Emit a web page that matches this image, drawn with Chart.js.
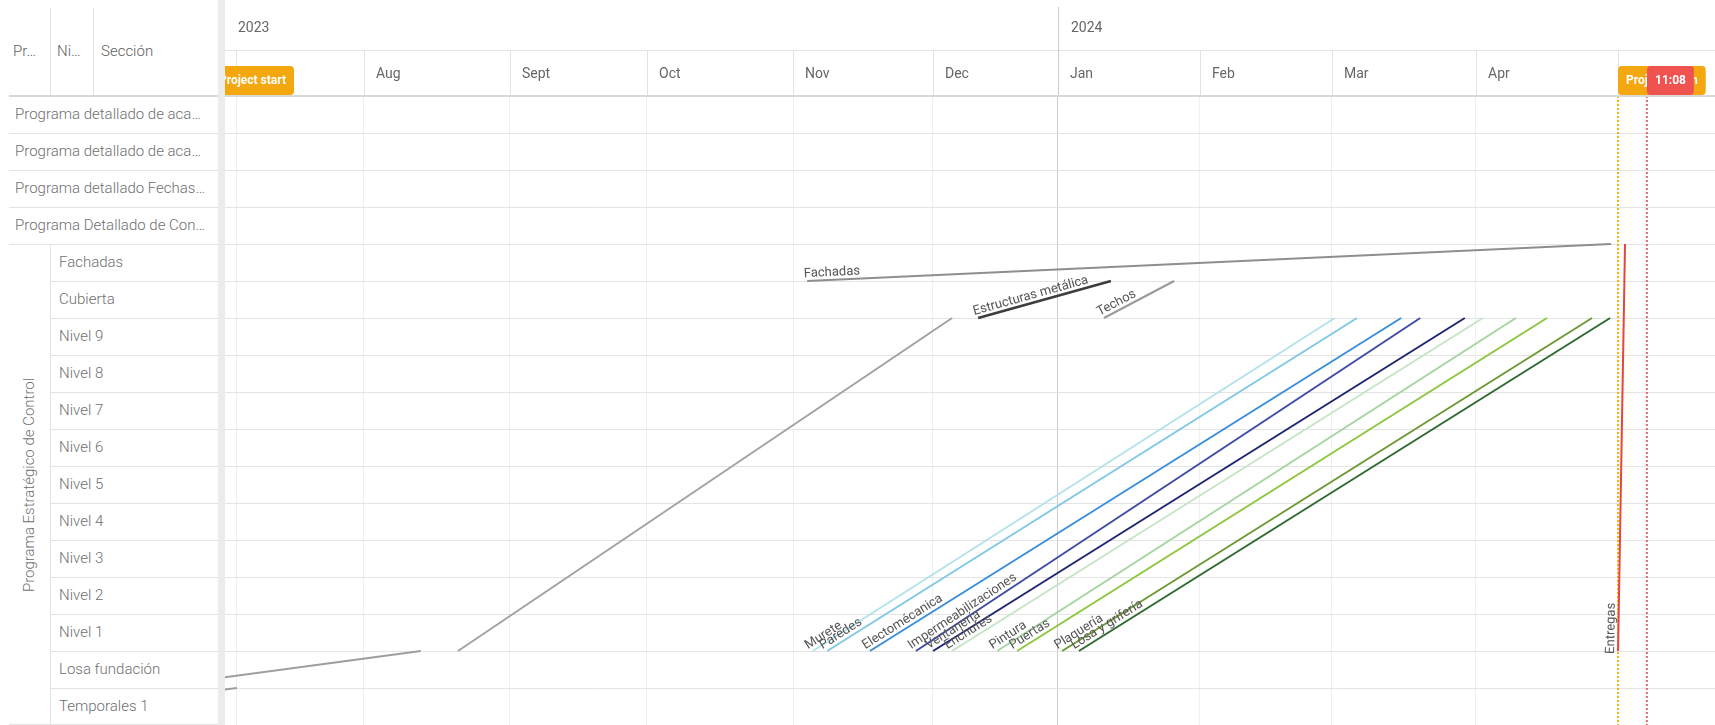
<!DOCTYPE html>
<html>
<head>
<meta charset="utf-8">
<script src="https://cdn.jsdelivr.net/npm/chart.js@4.4.1/dist/chart.umd.min.js"></script>
<style>
  html, body { margin: 0; padding: 0; background: #fff; overflow: hidden; }
  #wrap { position: relative; width: 1715px; height: 725px; font-family: Roboto, "Noto Sans", sans-serif; }
  #chart { position: absolute; left: 0; top: 0; }
  #grid { position: absolute; left: 0; top: 0; width: 218px; height: 725px; background: #fff; color: #6f6f6f; font-size: 15px; font-weight: 300; }
  #splitter { position: absolute; left: 218px; top: 0; width: 7px; height: 725px; background: #ececec; }
  .cell { position: absolute; white-space: nowrap; line-height: 37px; height: 37px; }
  .hl { position: absolute; height: 1px; background: #e3e3e3; }
  .vl { position: absolute; width: 1px; background: #e3e3e3; }
  .group { position: absolute; white-space: nowrap; transform: translate(-50%, -50%) rotate(-90deg); }
</style>
</head>
<body>
<div id="wrap">
  <canvas id="chart" width="1715" height="725"></canvas>
  <div id="grid"></div>
  <div id="splitter"></div>
</div>
<script>
// left table
const headerLabels = ['Pr…', 'Ni…', 'Sección'];
const topRowLabels = ['Programa detallado de aca…', 'Programa detallado de aca…', 'Programa detallado Fechas…', 'Programa Detallado de Con…'];
const groupLabel = 'Programa Estratégico de Control';
const sectionLabels = ['Fachadas', 'Cubierta', 'Nivel 9', 'Nivel 8', 'Nivel 7', 'Nivel 6', 'Nivel 5', 'Nivel 4', 'Nivel 3', 'Nivel 2', 'Nivel 1', 'Losa fundación', 'Temporales 1'];

// timeline, in shown days from the July column line
const yearLabels = ['2023', '2024'];
const yearStarts = [-181, 177];
const monthLabels = ['Jul', 'Aug', 'Sept', 'Oct', 'Nov', 'Dec', 'Jan', 'Feb', 'Mar', 'Apr', 'May'];
const monthStarts = [0, 27.5, 59, 88.5, 120, 150, 177, 207.5, 236, 267, 297.5];

// tasks: start / end day, and the row lines they run between (0 = top of first row)
const taskNames = ['', '', '', 'Fachadas', 'Estructuras metálica', 'Techos', 'Murete', 'Paredes', 'Electomécanica',
  'Impermeabilizaciones', 'Ventanería', 'Enchufes', 'Pintura', 'Puertas', 'Plaquería', 'Losa y grifería', 'Entregas'];
const taskStart = [-60, -19.6, 47.8, 123, 159.8, 186.9, 124.2, 127.3, 136.5, 146.4, 150.1, 154.2, 163.9, 168.2, 177.9, 181.5, 297.6];
const taskEnd = [0.2, 39.8, 154.2, 296.1, 188.4, 202, 236.6, 241.4, 250.9, 255, 264.6, 268.5, 275.6, 282.3, 292, 295.9, 299.1];
const taskFromRow = [17, 16, 15, 5, 6, 6, 15, 15, 15, 15, 15, 15, 15, 15, 15, 15, 15];
const taskToRow = [16, 15, 6, 4, 5, 5, 6, 6, 6, 6, 6, 6, 6, 6, 6, 6, 4];

const markerLabels = ['Project start', 'Project finish', '11:08'];
const markerDays = [-5.4, 297.6, 303.8];

// styles
const taskColors = ['#9e9e9e', '#9e9e9e', '#a2a2a2', '#8e8e8e', '#3d3d3d', '#9a9a9a', '#b4e3ea', '#80c8e6', '#3a8edb',
  '#414ca6', '#1f2670', '#c6e4c6', '#a5d59f', '#8dc63f', '#6d9a35', '#2f6a30', '#e8453c'];
const markerColors = ['#f5a70f', '#f5a70f', '#ef5350'];
const markerLineColors = [null, '#f2b600', '#e06a6a'];

const ROW_H = 37, TOP = 96, LEFT = 225;

// ---- left table ----
const grid = document.getElementById('grid');
function add(cls, css, text) {
  const d = document.createElement('div');
  d.className = cls;
  Object.assign(d.style, css);
  if (text) d.textContent = text;
  grid.appendChild(d);
  return d;
}
[13, 57, 101].forEach((x, i) => add('cell', { left: x + 'px', top: '33px', color: '#5e5e5e' }, headerLabels[i]));
add('vl', { left: '50px', top: '8px', height: '88px' });
add('vl', { left: '93px', top: '8px', height: '88px' });
add('hl', { left: '9px', top: '95px', width: '209px', height: '2px', background: '#d9d9d9' });
topRowLabels.forEach((t, i) => {
  add('cell', { left: '15px', top: TOP + i * ROW_H + 'px' }, t);
  add('hl', { left: '9px', top: TOP + (i + 1) * ROW_H + 'px', width: '209px' });
});
sectionLabels.forEach((t, i) => {
  const r = i + topRowLabels.length;
  add('cell', { left: '59px', top: TOP + r * ROW_H + 'px' }, t);
  const last = i === sectionLabels.length - 1;
  add('hl', { left: last ? '9px' : '50px', top: TOP + (r + 1) * ROW_H - (last ? 1 : 0) + 'px', width: last ? '209px' : '168px' });
});
const g0 = TOP + topRowLabels.length * ROW_H;
add('vl', { left: '50px', top: g0 + 'px', height: sectionLabels.length * ROW_H + 'px' });
add('group', { left: '29px', top: g0 + sectionLabels.length * ROW_H / 2 + 'px' }, groupLabel);

// ---- chart ----
const datasets = taskNames.map((name, i) => ({
  label: name,
  data: [{ x: taskStart[i], y: taskFromRow[i] }, { x: taskEnd[i], y: taskToRow[i] }],
  borderColor: taskColors[i],
  borderWidth: i === 4 ? 2.6 : 2,
}));
markerDays.forEach((d, i) => {
  if (!markerLineColors[i]) return;
  datasets.push({
    label: markerLabels[i],
    marker: true,
    data: [{ x: d, y: 0 }, { x: d, y: 17 }],
    borderColor: markerLineColors[i],
    borderWidth: 2,
    borderDash: [2, 2],
  });
});

const pxPerDay = 4.644;
const xMin = (LEFT - 236) / pxPerDay;
const xMax = xMin + (1715 - LEFT) / pxPerDay;

const lineLabels = {
  id: 'lineLabels',
  afterDatasetsDraw(chart) {
    const { ctx, chartArea: a } = chart;
    ctx.save();
    ctx.beginPath();
    ctx.rect(a.left, a.top, a.right - a.left, a.bottom - a.top);
    ctx.clip();
    ctx.font = '13px Roboto, sans-serif';
    ctx.fillStyle = '#555';
    ctx.textBaseline = 'alphabetic';
    chart.data.datasets.forEach((ds, i) => {
      if (!ds.label || ds.marker) return;
      const [p0, p1] = chart.getDatasetMeta(i).data;
      const ang = Math.atan2(p1.y - p0.y, p1.x - p0.x);
      ctx.save();
      ctx.translate(p0.x, p0.y);
      ctx.rotate(ang);
      ctx.fillText(ds.label, -3, -4);
      ctx.restore();
    });
    ctx.restore();
  }
};

const timelineHeader = {
  id: 'timelineHeader',
  afterDraw(chart) {
    const { ctx, chartArea: a, scales: { x } } = chart;
    ctx.save();
    ctx.beginPath();
    ctx.rect(a.left, 0, a.right - a.left, a.top + 1);
    ctx.clip();
    ctx.fillStyle = '#e3e3e3';
    ctx.fillRect(a.left, 50, a.right - a.left, 1);
    ctx.font = '14px Roboto, sans-serif';
    ctx.textBaseline = 'middle';
    monthStarts.forEach((v, i) => {
      const px = Math.round(x.getPixelForValue(v));
      const isYear = yearStarts.includes(v);
      ctx.fillStyle = isYear ? '#cccccc' : '#e3e3e3';
      ctx.fillRect(px, isYear ? 7 : 51, 1, a.top - (isYear ? 7 : 51));
      ctx.fillStyle = '#666';
      ctx.fillText(monthLabels[i], px + 12, 74);
    });
    yearLabels.forEach((t, i) => {
      const px = Math.max(a.left, x.getPixelForValue(yearStarts[i]));
      ctx.fillStyle = '#666';
      ctx.fillText(t, px + 13, 28);
    });
    ctx.fillStyle = '#d9d9d9';
    ctx.fillRect(a.left, 95, a.right - a.left, 2);
    ctx.font = 'bold 12px Roboto, sans-serif';
    markerLabels.forEach((t, i) => {
      const px = Math.round(x.getPixelForValue(markerDays[i]));
      const w = ctx.measureText(t).width + 16;
      ctx.fillStyle = markerColors[i];
      ctx.beginPath();
      ctx.roundRect(px, 66, w, 29, 4);
      ctx.fill();
      ctx.fillStyle = '#fff';
      ctx.fillText(t, px + 8, 81);
    });
    ctx.restore();
  }
};

new Chart(document.getElementById('chart'), {
  type: 'line',
  data: { datasets },
  options: {
    responsive: false,
    animation: false,
    layout: { padding: { left: LEFT, top: TOP, right: 0, bottom: 0 } },
    elements: { point: { radius: 0 }, line: { tension: 0 } },
    plugins: { legend: { display: false }, tooltip: { enabled: false } },
    scales: {
      x: {
        type: 'linear', min: xMin, max: xMax,
        afterBuildTicks: s => { s.ticks = monthStarts.map(v => ({ value: v })); },
        ticks: { display: false },
        border: { display: false },
        grid: {
          drawTicks: false,
          color: c => yearStarts.includes(c.tick.value) ? '#cccccc' : '#efefef'
        }
      },
      y: {
        type: 'linear', min: 0, max: 17, reverse: true,
        ticks: { display: false, stepSize: 1 },
        border: { display: false },
        grid: {
          drawTicks: false,
          color: c => c.tick.value === 0 ? '#d9d9d9' : '#e4e4e4',
          lineWidth: c => c.tick.value === 0 ? 2 : 1
        }
      }
    }
  },
  plugins: [lineLabels, timelineHeader]
});
</script>
</body>
</html>
